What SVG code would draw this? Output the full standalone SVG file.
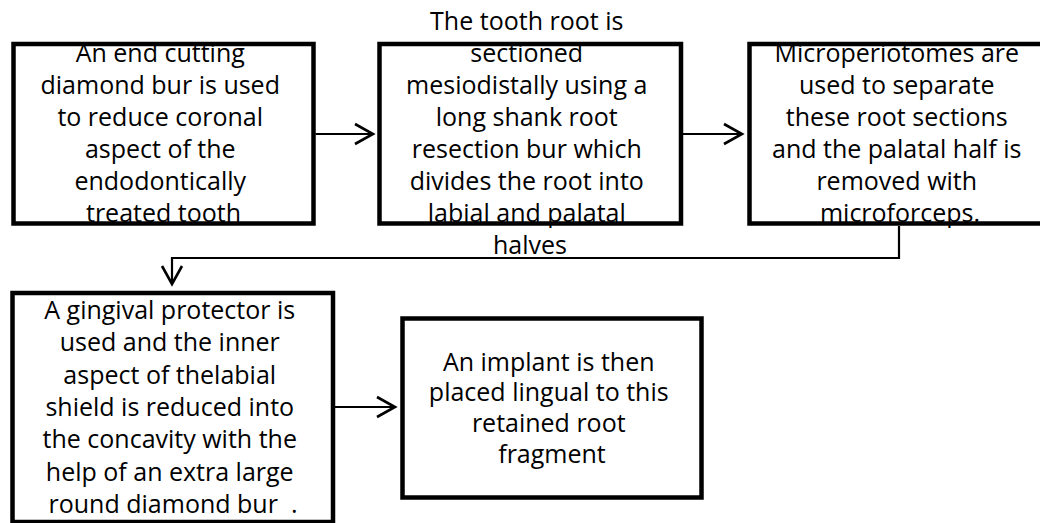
<svg xmlns="http://www.w3.org/2000/svg" width="1040" height="523" viewBox="0 0 1040 523">
<style>
  .bg { fill: #ffffff; stroke: none; }
  .border { fill: none; stroke: #000000; stroke-width: 4.5; }
  .label { font-family: "Open Sans", "Liberation Sans", sans-serif; font-size: 25px; fill: #000000; text-anchor: middle; }
  .conn { fill: none; stroke: #000000; stroke-width: 2.2; }
  .head { fill: none; stroke: #000000; stroke-width: 2.6; stroke-linejoin: miter; stroke-linecap: butt; }
</style>
<defs>
  <marker id="arrow" markerUnits="userSpaceOnUse" viewBox="-20 -12 24 24" markerWidth="24" markerHeight="24" refX="0" refY="0" orient="auto" overflow="visible">
    <path class="head" d="M-18,-10 L0,0 L-18,10"/>
  </marker>
</defs>
<rect x="0" y="0" width="1040" height="523" fill="#ffffff"/>

<g id="connectors">
  <line class="conn" x1="315.5" y1="134" x2="373" y2="134" marker-end="url(#arrow)"/>
  <line class="conn" x1="683" y1="134" x2="742" y2="134" marker-end="url(#arrow)"/>
  <path class="conn" d="M899,226 V258 H172 V284" marker-end="url(#arrow)"/>
  <line class="conn" x1="335" y1="407" x2="395" y2="407" marker-end="url(#arrow)"/>
</g>

<g id="node1">
  <rect class="bg" x="13.5" y="44" width="300" height="179.5"/>
  <text class="label">
    <tspan x="163.5" y="62">An end cutting</tspan>
    <tspan x="163.5" y="94">diamond bur is used</tspan>
    <tspan x="163.5" y="126">to reduce coronal</tspan>
    <tspan x="163.5" y="158">aspect of the</tspan>
    <tspan x="163.5" y="190">endodontically</tspan>
    <tspan x="163.5" y="222">treated tooth</tspan>
  </text>
  <rect class="border" x="13.5" y="44" width="300" height="179.5"/>
</g>

<g id="node2">
  <rect class="bg" x="379.5" y="44" width="301.5" height="179.5"/>
  <text class="label">
    <tspan x="530" y="30">The tooth root is</tspan>
    <tspan x="530" y="62">sectioned</tspan>
    <tspan x="530" y="94">mesiodistally using a</tspan>
    <tspan x="530" y="126">long shank root</tspan>
    <tspan x="530" y="158">resection bur which</tspan>
    <tspan x="530" y="190">divides the root into</tspan>
    <tspan x="530" y="222">labial and palatal</tspan>
    <tspan x="530" y="254">halves</tspan>
  </text>
  <rect class="border" x="379.5" y="44" width="301.5" height="179.5"/>
</g>

<g id="node3">
  <rect class="bg" x="749.5" y="44" width="301" height="179.5"/>
  <text class="label">
    <tspan x="900" y="62">Microperiotomes are</tspan>
    <tspan x="900" y="94">used to separate</tspan>
    <tspan x="900" y="126">these root sections</tspan>
    <tspan x="900" y="158">and the palatal half is</tspan>
    <tspan x="900" y="190">removed with</tspan>
    <tspan x="900" y="222">microforceps.</tspan>
  </text>
  <rect class="border" x="749.5" y="44" width="301" height="179.5"/>
</g>

<g id="node4">
  <rect class="bg" x="12.5" y="293" width="320.5" height="229"/>
  <text class="label">
    <tspan x="173" y="318.5">A gingival protector is</tspan>
    <tspan x="173" y="351">used and the inner</tspan>
    <tspan x="173" y="383.5">aspect of thelabial</tspan>
    <tspan x="173" y="416">shield is reduced into</tspan>
    <tspan x="173" y="448">the concavity with the</tspan>
    <tspan x="173" y="480.5">help of an extra large</tspan>
    <tspan x="173" y="513">round diamond bur&#160; .</tspan>
  </text>
  <rect class="border" x="12.5" y="293" width="320.5" height="229"/>
</g>

<g id="node5">
  <rect class="bg" x="402.5" y="318.5" width="299" height="179"/>
  <text class="label">
    <tspan x="552" y="370.5">An implant is then</tspan>
    <tspan x="552" y="401.2">placed lingual to this</tspan>
    <tspan x="552" y="432">retained root</tspan>
    <tspan x="552" y="462.7">fragment</tspan>
  </text>
  <rect class="border" x="402.5" y="318.5" width="299" height="179"/>
</g>
</svg>
